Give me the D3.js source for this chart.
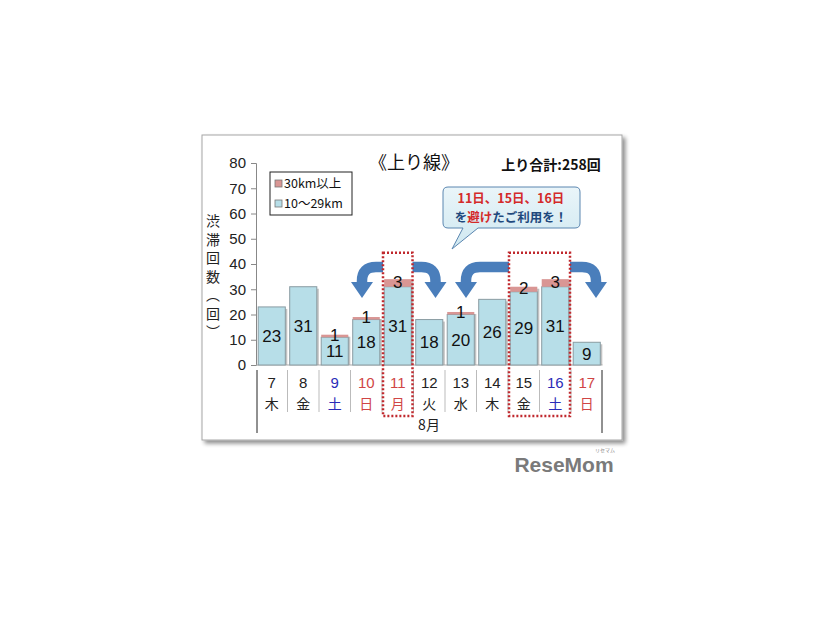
<!DOCTYPE html>
<html><head><meta charset="utf-8">
<script src="https://cdn.jsdelivr.net/npm/d3@7"></script>
<style>
body{margin:0;background:#fff;}
text{font-family:"Liberation Sans","Noto Sans CJK JP",sans-serif;}
.jp{font-family:"Noto Sans CJK JP","Liberation Sans",sans-serif;}
</style></head><body>
<svg id="c" width="826" height="620"></svg>
<script>
const days = ["7","8","9","10","11","12","13","14","15","16","17"];
const weekdays = ["木","金","土","日","月","火","水","木","金","土","日"];
const low = [23,31,11,18,31,18,20,26,29,31,9];
const high = [0,0,1,1,3,0,1,0,2,3,0];
const yTicks = [0,10,20,30,40,50,60,70,80];
const legendLabels = ["30km以上","10～29km"];
const highlightGroups = [["11"],["15","16"]];
const redDays = ["10","11","17"];
const blueDays = ["9","16"];
const title = "《上り線》";
const totalLabel = "上り合計:258回";
const monthLabel = "8月";
const yTitle = "渋滞回数（回）";

const svg = d3.select("#c");
const frame = {x:202,y:135,w:420,h:305};
const blue="#b7dee8", pink="#d99694", arrowC="#4a7ebb", red="#c0282d";

const defs = svg.append("defs");
const f = defs.append("filter").attr("id","sh").attr("x","-5%").attr("y","-5%").attr("width","115%").attr("height","115%");
f.append("feGaussianBlur").attr("in","SourceAlpha").attr("stdDeviation",2);
f.append("feOffset").attr("dx",3).attr("dy",3).attr("result","o");
f.append("feComponentTransfer").append("feFuncA").attr("type","linear").attr("slope",0.45);
const m = f.append("feMerge"); m.append("feMergeNode"); m.append("feMergeNode").attr("in","SourceGraphic");
const g1 = defs.append("linearGradient").attr("id","cg").attr("x1",0).attr("y1",0).attr("x2",0).attr("y2",1);
g1.append("stop").attr("offset","0%").attr("stop-color","#eaf5f9");
g1.append("stop").attr("offset","100%").attr("stop-color","#cfe8f1");

svg.append("rect").attr("x",frame.x).attr("y",frame.y).attr("width",frame.w).attr("height",frame.h)
  .attr("fill","#fff").attr("stroke","#a6a6a6").attr("filter","url(#sh)");

const x = d3.scaleBand().domain(days).range([256,602.5]).paddingInner(0.14).paddingOuter(0.07);
const xb = d3.scaleBand().domain(days).range([256,602.5]);
const y = d3.scaleLinear().domain([0,80]).range([365,163]);

// y axis
const ya = svg.append("g").attr("transform","translate(256,0)")
  .call(d3.axisLeft(y).tickValues(yTicks).tickSize(5).tickPadding(5));
ya.select(".domain").attr("stroke","#888");
ya.selectAll(".tick line").attr("stroke","#888");
ya.selectAll(".tick text").attr("font-size",15).attr("fill","#222").attr("font-family","Liberation Sans, sans-serif");
svg.append("line").attr("x1",256).attr("x2",602.5).attr("y1",y(0)).attr("y2",y(0)).attr("stroke","#aaa");

// y title (vertical writing)
svg.append("text").attr("class","jp").attr("x",213).attr("y",214)
  .style("writing-mode","vertical-rl").style("glyph-orientation-vertical","0")
  .attr("font-size",14).attr("letter-spacing",4.5).attr("fill","#222").text(yTitle);

// bars
const bars = svg.append("g");
days.forEach((d,i)=>{
  const bx=x(d), bw=x.bandwidth();
  const top = y(low[i]+high[i]);
  bars.append("rect").attr("x",bx+2).attr("y",top+2).attr("width",bw).attr("height",y(0)-top-2).attr("fill","#9a9a9a").attr("opacity",0.6);
  bars.append("rect").attr("x",bx).attr("y",y(low[i])).attr("width",bw).attr("height",y(0)-y(low[i]))
    .attr("fill",blue).attr("stroke","#8a9ca2").attr("stroke-width",1);
  if(high[i]>0){
    bars.append("rect").attr("x",bx).attr("y",y(low[i]+high[i])).attr("width",bw).attr("height",y(low[i])-y(low[i]+high[i]))
      .attr("fill",pink);
  }
  bars.append("text").attr("x",bx+bw/2).attr("y",(y(0)+y(low[i]))/2+6).attr("text-anchor","middle")
    .attr("font-size",17).attr("fill","#111").text(low[i]);
  if(high[i]>0){
    bars.append("text").attr("x",bx+bw/2).attr("y",(y(low[i])+y(low[i]+high[i]))/2+5).attr("text-anchor","middle")
      .attr("font-size",17).attr("fill","#111").text(high[i]);
  }
});

// category labels
const colFor = d => redDays.includes(d) ? "#d04545" : blueDays.includes(d) ? "#2b2bb8" : "#222";
const cl = svg.append("g");
days.forEach((d,i)=>{
  const cx = xb(d)+xb.bandwidth()/2;
  cl.append("text").attr("x",cx).attr("y",388).attr("text-anchor","middle").attr("font-size",15).attr("fill",colFor(d)).text(d);
  cl.append("text").attr("class","jp").attr("x",cx).attr("y",409).attr("text-anchor","middle").attr("font-size",14).attr("fill",colFor(d)).text(weekdays[i]);
  if(i>0) cl.append("line").attr("x1",xb(d)).attr("x2",xb(d)).attr("y1",370).attr("y2",412).attr("stroke","#bbb");
});
cl.append("line").attr("x1",257).attr("x2",257).attr("y1",370).attr("y2",433).attr("stroke","#222");
cl.append("line").attr("x1",602).attr("x2",602).attr("y1",370).attr("y2",433).attr("stroke","#222");
cl.append("text").attr("class","jp").attr("x",429).attr("y",430).attr("text-anchor","middle").attr("font-size",14).attr("fill","#222").text(monthLabel);

// dotted boxes + arrows
const boxTop = y(44.5), boxBot = 416;
const ag = svg.append("g");
function arrow(xs, xt, dir){
  const yc = 267, r = 14;
  ag.append("path").attr("d",`M${xs},${yc} L${xt - dir*r},${yc} Q${xt},${yc} ${xt},${yc+r} L${xt},${284}`)
    .attr("fill","none").attr("stroke",arrowC).attr("stroke-width",10.5);
  ag.append("path").attr("d",`M${xt-11},282 L${xt+11},282 L${xt},298 Z`).attr("fill",arrowC);
}
highlightGroups.forEach((grp,gi)=>{
  const x0 = xb(grp[0]), x1 = xb(grp[grp.length-1])+xb.bandwidth();
  arrow(x0+1, x0 - (gi===0?20:42), -1);
  arrow(x1-1, x1 + (gi===0?22:25), 1);
});
highlightGroups.forEach(grp=>{
  const x0 = xb(grp[0]), x1 = xb(grp[grp.length-1])+xb.bandwidth();
  svg.append("rect").attr("x",x0+1).attr("y",boxTop).attr("width",x1-x0-2).attr("height",boxBot-boxTop)
    .attr("fill","none").attr("stroke",red).attr("stroke-width",2.5).attr("stroke-dasharray","2,2");
});

// callout
const co = svg.append("g");
co.append("path").attr("d","M448,187 L575,187 Q580,187 580,192 L580,223 Q580,228 575,228 L478,228 L452,249 L463,228 L448,228 Q443,228 443,223 L443,192 Q443,187 448,187 Z")
  .attr("fill","url(#cg)").attr("stroke","#5b86b0").attr("stroke-width",1);
co.append("text").attr("class","jp").attr("x",511).attr("y",203).attr("text-anchor","middle").attr("font-size",12.5).attr("font-weight","bold").attr("fill","#d42a2a").text("11日、15日、16日");
const t2 = co.append("text").attr("class","jp").attr("x",511).attr("y",222).attr("text-anchor","middle").attr("font-size",12.5).attr("font-weight","bold").attr("fill","#1f497d");
t2.append("tspan").text("を");
t2.append("tspan").attr("fill","#d42a2a").text("避け");
t2.append("tspan").text("たご利用を！");

// title
svg.append("text").attr("class","jp").attr("x",414).attr("y",169).attr("text-anchor","middle").attr("font-size",18).attr("fill","#111").text(title);
svg.append("text").attr("class","jp").attr("x",551).attr("y",170).attr("text-anchor","middle").attr("font-size",14).attr("font-weight","bold").attr("fill","#111").text(totalLabel);

// legend
const lg = svg.append("g");
lg.append("rect").attr("x",270).attr("y",172).attr("width",82).attr("height",43).attr("fill","#fff").attr("stroke","#222");
[pink,blue].forEach((c,i)=>{
  lg.append("rect").attr("x",275).attr("y",180+i*20).attr("width",7).attr("height",7).attr("fill",c).attr("stroke","#777").attr("stroke-width",0.8);
  lg.append("text").attr("class","jp").attr("x",284).attr("y",188+i*20).attr("font-size",12.5).attr("fill","#111").text(legendLabels[i]);
});

// logo
svg.append("text").attr("x",564).attr("y",472).attr("text-anchor","middle").attr("font-size",21).attr("font-weight","bold")
  .attr("fill","#7a7a7a").attr("font-family","Liberation Sans, sans-serif").text("ReseMom");
svg.append("text").attr("x",605).attr("y",452).attr("text-anchor","middle").attr("font-size",5).attr("fill","#888").attr("class","jp").text("リセマム");
</script></body></html>
